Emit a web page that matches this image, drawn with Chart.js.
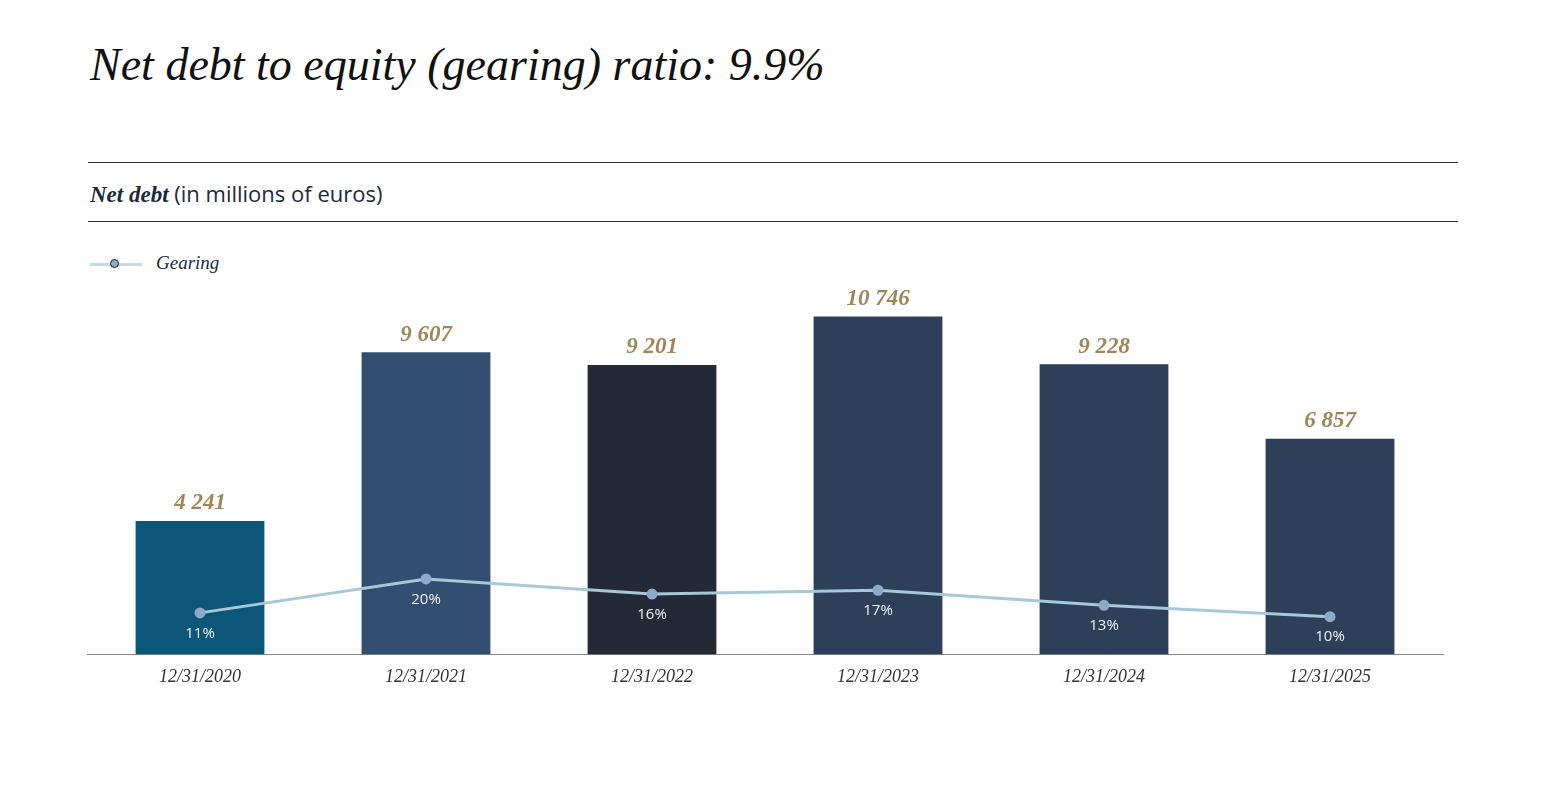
<!DOCTYPE html>
<html><head><meta charset="utf-8">
<script src="https://cdn.jsdelivr.net/npm/chart.js@4"></script>
<style>
body{margin:0;background:#fff;width:1543px;height:787px;position:relative;overflow:hidden}
.title{position:absolute;left:90px;top:38px;font:italic 46px "Liberation Serif",serif;color:#111}
.rule{position:absolute;left:88px;width:1370px;border-top:1px solid #333}
.sub{position:absolute;left:90px;top:178px;font:22px "Open Sans",sans-serif;color:#1c2a3d}
.sub b{font:italic bold 23px "Liberation Serif",serif}
.leg{position:absolute;left:90px;top:252px;font:italic 19px "Liberation Serif",serif;color:#1c2a3d}
.leg i{display:inline-block;width:52px;height:3px;background:#c6dbe4;position:relative;vertical-align:middle;margin-right:14px}
.leg i:after{content:"";position:absolute;left:20px;top:-4px;width:7px;height:7px;border-radius:50%;background:#8fa9c9;border:1px solid #222}
#wrap{position:absolute;left:80px;top:250px;width:1370px;height:450px}
</style></head><body>
<div class="title">Net debt to equity (gearing) ratio: 9.9%</div>
<div class="rule" style="top:162px"></div>
<div class="sub"><b>Net debt</b> (in millions of euros)</div>
<div class="rule" style="top:221px"></div>
<div class="leg"><i></i>Gearing</div>
<div id="wrap"><canvas id="c"></canvas></div>
<script>
const labels = ['12/31/2020','12/31/2021','12/31/2022','12/31/2023','12/31/2024','12/31/2025'];
const netDebt = [4241, 9607, 9201, 10746, 9228, 6857];
const gearing = [11, 20, 16, 17, 13, 10];
const barColors = ['#0b5779','#344e71','#232a35','#2d3f59','#2d3f59','#2d3f59'];

const fmt = v => String(v).replace(/\B(?=(\d{3})+(?!\d))/g, ' ');

const labelPlugin = {
  id: 'labels',
  afterDatasetsDraw(chart) {
    const ctx = chart.ctx;
    ctx.save();
    ctx.textAlign = 'center';
    chart.getDatasetMeta(1).data.forEach((bar, i) => {
      ctx.fillStyle = '#a08556';
      ctx.font = 'italic bold 23px "Liberation Serif", serif';
      ctx.textBaseline = 'bottom';
      ctx.fillText(fmt(netDebt[i]), bar.x, bar.y - 6);
    });
    chart.getDatasetMeta(0).data.forEach((pt, i) => {
      ctx.fillStyle = '#eef2f6';
      ctx.font = '15px "Open Sans", sans-serif';
      ctx.textBaseline = 'top';
      ctx.fillText(gearing[i] + '%', pt.x, pt.y + 13);
    });
    ctx.restore();
  }
};

new Chart(document.getElementById('c'), {
  data: {
    labels,
    datasets: [
      { type: 'line', data: gearing, yAxisID: 'y2', borderColor: '#a7c8d6', borderWidth: 3,
        pointRadius: 4, pointBackgroundColor: '#8fa9c9', pointBorderColor: '#8fa9c9', order: 0 },
      { type: 'bar', data: netDebt, backgroundColor: barColors, barPercentage: 0.57,
        categoryPercentage: 1, order: 1 }
    ]
  },
  options: {
    responsive: true, maintainAspectRatio: false, animation: false,
    layout: { padding: { top: 27 } },
    plugins: { legend: { display: false }, tooltip: { enabled: false } },
    scales: {
      x: { grid: { display: false, drawTicks: false }, border: { color: '#888' },
           ticks: { padding: 12, color: '#333', font: { family: 'Liberation Serif', style: 'italic', size: 18 } } },
      y: { display: false, min: 0, max: 12000 },
      y2: { display: false, min: 0, max: 100 }
    }
  },
  plugins: [labelPlugin]
});
</script>
</body></html>
